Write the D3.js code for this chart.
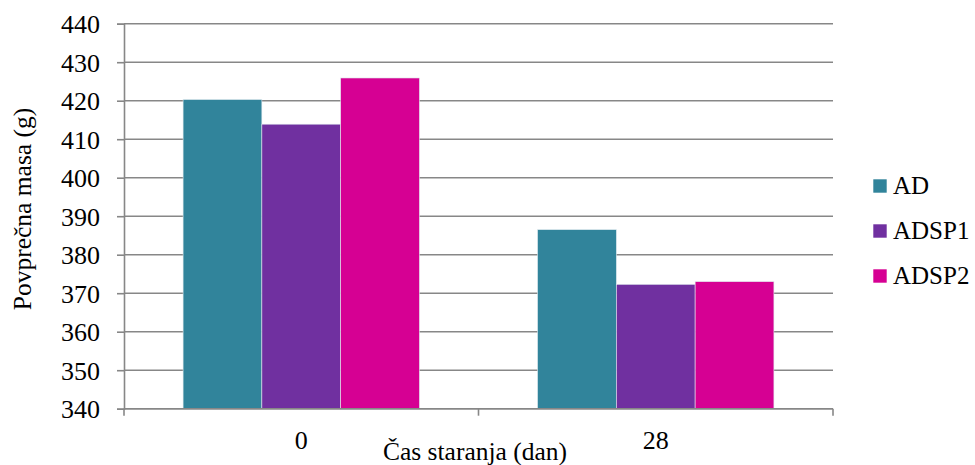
<!DOCTYPE html>
<html><head><meta charset="utf-8">
<script src="https://cdn.jsdelivr.net/npm/d3@7"></script>
<style>body{margin:0;background:#fff}svg{display:block}</style>
</head><body><svg id="c" width="975" height="465"></svg>
<script>
const categories = ["0", "28"];
const series = ["AD", "ADSP1", "ADSP2"];
const valuesAD = [420.3, 386.5];
const valuesADSP1 = [413.9, 372.3];
const valuesADSP2 = [425.9, 373.0];
const colors = ["#31849B", "#7030A0", "#D60093"];
const yTicks = [340, 350, 360, 370, 380, 390, 400, 410, 420, 430, 440];

const FONT = "'Liberation Serif', Tinos, 'Times New Roman', serif";
const seriesValues = [valuesAD, valuesADSP1, valuesADSP2];
const svg = d3.select("#c");
const L = 124, R = 833, T = 23.7, B = 408.7;
const y = d3.scaleLinear().domain([340, 440]).range([B, T]);
const x0 = d3.scaleBand().domain(categories).range([L, R]).paddingInner(1/3).paddingOuter(1/6);
const x1 = d3.scaleBand().domain(series).range([0, x0.bandwidth()]);

svg.append("g").selectAll("line").data(yTicks).join("line")
  .attr("x1", L).attr("x2", R).attr("y1", d => y(d)).attr("y2", d => y(d))
  .attr("stroke", "#878787").attr("stroke-width", 1.6);

const g = svg.append("g");
categories.forEach((c, i) => {
  series.forEach((s, j) => {
    const v = seriesValues[j][i];
    g.append("rect")
      .attr("x", x0(c) + x1(s)).attr("width", x1.bandwidth())
      .attr("y", y(v)).attr("height", y(340) - y(v))
      .attr("fill", colors[j]).attr("stroke", "#dfe9ee").attr("stroke-width", 0.6);
  });
});

const yAxis = d3.axisLeft(y).tickValues(yTicks).tickSize(7).tickPadding(17).tickFormat(d3.format("d"));
const ya = svg.append("g").attr("transform", `translate(${L},0)`).call(yAxis);
ya.attr("font-family", null).attr("font-size", null);
ya.select(".domain").attr("stroke", "#878787").attr("stroke-width", 1.6);
ya.selectAll(".tick line").attr("stroke", "#878787").attr("stroke-width", 1.6);
ya.selectAll(".tick text").style("font-size", "26px").style("font-family", FONT).attr("fill", "#000").attr("dy", "0.34em");

const xa = svg.append("g").attr("transform", `translate(0,${B})`);
xa.append("line").attr("x1", L).attr("x2", R).attr("stroke", "#878787").attr("stroke-width", 1.6);
const bounds = [L, (x0(categories[0]) + x0.bandwidth() + x0(categories[1])) / 2, R];
xa.selectAll(".tk").data(bounds).join("line").attr("class", "tk")
  .attr("x1", d => d).attr("x2", d => d).attr("y1", 0).attr("y2", 7)
  .attr("stroke", "#878787").attr("stroke-width", 1.6);
xa.selectAll(".lbl").data(categories).join("text").attr("class", "lbl")
  .attr("x", d => x0(d) + x0.bandwidth() / 2).attr("y", 40.5)
  .attr("text-anchor", "middle").style("font-size", "26px").style("font-family", FONT).text(d => d);

svg.append("text").attr("x", 475).attr("y", 460).attr("text-anchor", "middle")
  .style("font-size", "25.5px").style("font-family", FONT).text("Čas staranja (dan)");
svg.append("text").attr("transform", "translate(31,209) rotate(-90)").attr("text-anchor", "middle")
  .style("font-size", "25.5px").style("font-family", FONT).text("Povprečna masa (g)");

const lg = svg.append("g");
series.forEach((s, j) => {
  const yy = 186 + j * 45;
  lg.append("rect").attr("x", 873.3).attr("y", yy - 6.7).attr("width", 13.4).attr("height", 13.4).attr("fill", colors[j]);
  lg.append("text").attr("x", 893).attr("y", yy + 7.5).style("font-size", "25px").style("font-family", FONT).text(s);
});
</script></body></html>
